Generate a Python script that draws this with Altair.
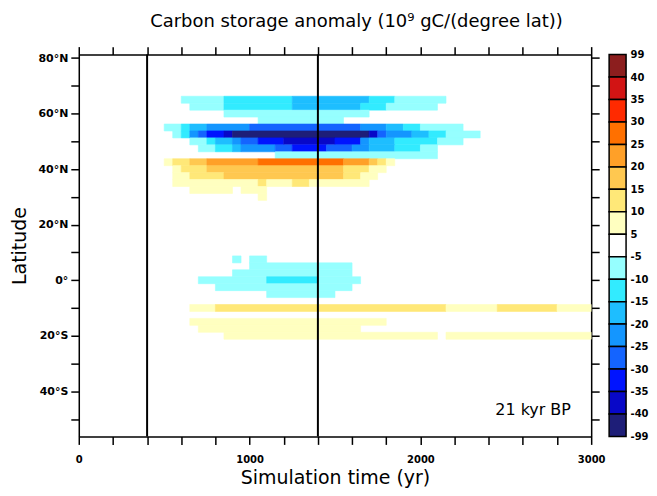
import altair as alt
import pandas as pd

# ---------------- data ----------------
# time axis (yr) and latitude grid
x_domain = [0, 3000]
y_domain = [-56.25, 81.25]
half_cell = 1.25
marker_years = [400, 1400]

# colour classes (anomaly, 10^9 gC per degree lat)
bounds = [-40, -35, -30, -25, -20, -15, -10, -5, 5, 10, 15, 20, 25, 30, 35, 40]
colors = ["#1E1E78", "#0808C8", "#0014FF", "#1464FF", "#1496FF", "#1EBEFF",
          "#32EBFF", "#96FFFF", "#FFFFFF", "#FFFFC0", "#FFE878", "#FFC850",
          "#FFA028", "#FF7000", "#FF2A00", "#D21414", "#8C1E1E"]
cbar_labels = ["99", "40", "35", "30", "25", "20", "15", "10", "5",
               "-5", "-10", "-15", "-20", "-25", "-30", "-35", "-40", "-99"]

# rows: latitude -> list of (start yr, end yr, anomaly)
row_65_0 = [(600, 850, -7), (850, 1250, -12), (1250, 1700, -17), (1700, 1850, -12), (1850, 2150, -7)]
row_62_5 = [(650, 850, -7), (850, 1250, -12), (1250, 1650, -17), (1650, 1800, -12), (1800, 2100, -7)]
row_60_0 = [(850, 1700, -7)]
row_57_5 = [(1050, 1550, -7)]
row_55_0 = [(500, 600, -7), (600, 650, -12), (650, 750, -17), (750, 1000, -22), (1000, 1650, -27),
            (1650, 1800, -22), (1800, 1900, -17), (1900, 2000, -12), (2000, 2250, -7)]
row_52_5 = [(550, 600, -7), (600, 650, -12), (650, 700, -22), (700, 750, -27), (750, 850, -32),
            (850, 900, -37), (900, 1700, -45), (1700, 1750, -37), (1750, 1800, -27),
            (1800, 1950, -22), (1950, 2050, -17), (2050, 2150, -12), (2150, 2350, -7)]
row_50_0 = [(650, 750, -7), (750, 800, -12), (800, 900, -17), (900, 950, -22), (950, 1050, -27),
            (1050, 1200, -32), (1200, 1500, -37), (1500, 1650, -32), (1650, 1700, -22),
            (1700, 1850, -17), (1850, 2100, -12), (2100, 2250, -7)]
row_47_5 = [(700, 800, -7), (800, 900, -12), (900, 950, -17), (950, 1150, -22), (1150, 1250, -27),
            (1250, 1450, -32), (1450, 1600, -27), (1600, 1700, -22), (1700, 1850, -17),
            (1850, 2000, -12), (2000, 2100, -7)]
row_45_0 = [(1150, 2100, -7)]
row_42_5 = [(500, 550, 7), (550, 650, 12), (650, 750, 17), (750, 1050, 22), (1050, 1550, 27),
            (1550, 1700, 22), (1700, 1750, 17), (1750, 1800, 12), (1800, 1850, 7)]
row_40_0 = [(550, 600, 7), (600, 750, 12), (750, 1550, 17), (1550, 1700, 12), (1700, 1800, 7)]
row_37_5 = [(550, 650, 7), (650, 850, 12), (850, 1550, 17), (1550, 1650, 12), (1650, 1750, 7)]
row_35_0 = [(550, 1050, 7), (1050, 1100, 12), (1100, 1250, 7), (1250, 1350, 12), (1350, 1700, 7)]
row_32_5 = [(650, 900, 7), (950, 1100, 7)]
row_30_0 = [(1050, 1100, 7)]
row_7_5 = [(900, 950, -7), (1000, 1100, -7)]
row_5_0 = [(1000, 1600, -7)]
row_2_5 = [(900, 1600, -7)]
row_0_0 = [(700, 1100, -7), (1100, 1400, -12), (1400, 1650, -7)]
row_m2_5 = [(800, 1600, -7)]
row_m5_0 = [(1100, 1500, -7)]
row_m10_0 = [(650, 800, 7), (800, 2150, 12), (2150, 2450, 7), (2450, 2800, 12), (2800, 3000, 7)]
row_m15_0 = [(650, 1800, 7)]
row_m17_5 = [(700, 1650, 7)]
row_m20_0 = [(850, 2100, 7), (2150, 3000, 7)]

rows = {
    65.0: row_65_0, 62.5: row_62_5, 60.0: row_60_0, 57.5: row_57_5, 55.0: row_55_0,
    52.5: row_52_5, 50.0: row_50_0, 47.5: row_47_5, 45.0: row_45_0, 42.5: row_42_5,
    40.0: row_40_0, 37.5: row_37_5, 35.0: row_35_0, 32.5: row_32_5, 30.0: row_30_0,
    7.5: row_7_5, 5.0: row_5_0, 2.5: row_2_5, 0.0: row_0_0, -2.5: row_m2_5, -5.0: row_m5_0,
    -10.0: row_m10_0, -15.0: row_m15_0, -17.5: row_m17_5, -20.0: row_m20_0,
}

recs = []
for lat, segs in rows.items():
    for a, b, v in segs:
        recs.append({"lat_lo": lat - half_cell, "lat_hi": lat + half_cell, "t0": a, "t1": b, "v": v})
df = pd.DataFrame(recs)

# ---------------- chart ----------------
LABEL_FONT = "DejaVu Sans"
TITLE_FONT = "DejaVu Sans"

x_scale = alt.Scale(domain=x_domain, nice=False, zero=False)
y_scale = alt.Scale(domain=y_domain, nice=False, zero=False)
thr = alt.Scale(type="threshold", domain=bounds, range=colors)

x_vals = list(range(0, 3001, 200))
y_vals = list(range(-50, 81, 10))

common = dict(tickSize=8, tickWidth=1.5, domainWidth=1.5, domainColor="black",
              tickColor="black", grid=False)

x_axis_bottom = alt.Axis(values=x_vals, orient="bottom", title="Simulation time (yr)",
                         labelExpr="datum.value % 1000 == 0 ? format(datum.value, 'd') : ''",
                         labelFont=LABEL_FONT, labelFontSize=10, labelFontWeight="bold",
                         labelPadding=10, labelColor="black", labelFlush=False,
                         titleFont=TITLE_FONT, titleFontSize=19, titleFontWeight="normal",
                         titlePadding=4, titleColor="black", **common)
x_axis_top = alt.Axis(values=x_vals, orient="top", labels=False, title=None, **common)
y_axis_left = alt.Axis(values=y_vals, orient="left", title="Latitude",
                       labelExpr="datum.value % 20 == 0 ? (datum.value == 0 ? '0°' : (abs(datum.value) + '°' + (datum.value > 0 ? 'N' : 'S'))) : ''",
                       labelFont=LABEL_FONT, labelFontSize=11, labelFontWeight="bold",
                       labelPadding=3, labelColor="black",
                       titleFont=TITLE_FONT, titleFontSize=19, titleFontWeight="normal",
                       titlePadding=8, titleColor="black", **common)
y_axis_right = alt.Axis(values=y_vals, orient="right", labels=False, title=None, **common)

heat = alt.Chart(df).mark_rect(strokeWidth=0.6).encode(
    x=alt.X("t0:Q", scale=x_scale, axis=x_axis_bottom),
    x2="t1:Q",
    y=alt.Y("lat_lo:Q", scale=y_scale, axis=y_axis_left),
    y2="lat_hi:Q",
    color=alt.Color("v:Q", scale=thr, legend=None),
    stroke=alt.Stroke("v:Q", scale=thr, legend=None),
)

rules = alt.Chart(pd.DataFrame({"t": marker_years})).mark_rule(color="black", strokeWidth=2).encode(
    x=alt.X("t:Q", scale=x_scale, axis=x_axis_top)
)

ann = alt.Chart(pd.DataFrame({"t": [2660], "lat": [-46.7], "label": ["21 kyr BP"]})).mark_text(
    font=TITLE_FONT, fontSize=16, color="black"
).encode(
    x=alt.X("t:Q", scale=x_scale, axis=None),
    y=alt.Y("lat:Q", scale=y_scale, axis=y_axis_right),
    text="label:N",
)

main = alt.layer(heat, rules, ann).resolve_axis(x="independent", y="independent").properties(
    width=514, height=383
)

label_list = "[" + ",".join("'" + s + "'" for s in cbar_labels) + "]"
cb = pd.DataFrame({"i0": list(range(17)), "i1": list(range(1, 18)), "col": colors[::-1], "k": ["a"] * 17})
cbar = alt.Chart(cb).mark_rect(stroke="black", strokeWidth=1.5).encode(
    x=alt.X("k:N", axis=None, scale=alt.Scale(paddingInner=0, paddingOuter=0)),
    y=alt.Y("i0:Q", scale=alt.Scale(domain=[0, 17], reverse=True, nice=False, zero=False),
            axis=alt.Axis(orient="right", values=list(range(18)), labelExpr=label_list + "[datum.value]",
                          tickSize=0, domain=False, grid=False, title=None, labelPadding=4,
                          labelFont=LABEL_FONT, labelFontSize=10, labelFontWeight="bold",
                          labelColor="black", labelFlush=False, labelOverlap=False)),
    y2="i1:Q",
    color=alt.Color("col:N", scale=None),
).properties(width=17, height=383)

chart = alt.hconcat(main, cbar, spacing=1).properties(
    title=alt.TitleParams("Carbon storage anomaly (10⁹ gC/(degree lat))", font=TITLE_FONT,
                          fontSize=18, fontWeight="normal", color="black", offset=14,
                          anchor="middle", dx=27),
    padding={"left": 2, "top": 4, "right": 0, "bottom": 0},
).configure_view(stroke="transparent")

chart.save("out.html", embed_options={"renderer": "svg", "actions": False})
